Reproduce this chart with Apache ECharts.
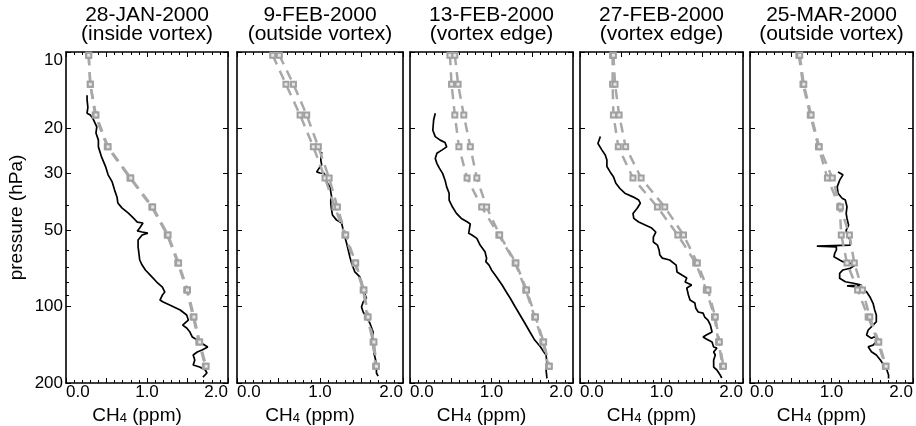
<!DOCTYPE html>
<html>
<head>
<meta charset="utf-8">
<script src="https://cdn.jsdelivr.net/npm/echarts@6/dist/echarts.min.js"></script>
<style>
html,body{margin:0;padding:0;background:#fff;}
#c{width:916px;height:426px;}
</style>
</head>
<body>
<div id="c"></div>
<script>
// ---------------- data ----------------
const dates = ['28-JAN-2000', '9-FEB-2000', '13-FEB-2000', '27-FEB-2000', '25-MAR-2000'];
const regions = ['(inside vortex)', '(outside vortex)', '(vortex edge)', '(vortex edge)', '(outside vortex)'];
const ch4Ticks = [0, 1, 2];
const pressureTicks = [10, 20, 30, 50, 100, 200];
const pressureMinorTicks = [40, 60, 70, 80, 90];

// model levels (hPa) and two model profiles (ppm) per panel
const modelPressure = [10.3, 13.4, 17.7, 23.6, 31.3, 40.7, 52.4, 67.5, 86.2, 110, 138, 172];
const model1A = [0.28, 0.30, 0.36, 0.51, 0.79, 1.06, 1.25, 1.38, 1.49, 1.57, 1.64, 1.72];
const model1B = [0.28, 0.30, 0.37, 0.52, 0.80, 1.07, 1.26, 1.39, 1.50, 1.58, 1.65, 1.73];
const model2A = [0.43, 0.59, 0.76, 0.92, 1.06, 1.18, 1.30, 1.42, 1.52, 1.57, 1.64, 1.67];
const model2B = [0.51, 0.68, 0.84, 0.98, 1.11, 1.21, 1.31, 1.43, 1.53, 1.58, 1.65, 1.68];
const model3A = [0.49, 0.51, 0.55, 0.60, 0.70, 0.88, 1.09, 1.29, 1.42, 1.53, 1.63, 1.70];
const model3B = [0.55, 0.59, 0.66, 0.74, 0.82, 0.94, 1.10, 1.30, 1.43, 1.54, 1.64, 1.71];
const model4A = [0.40, 0.40, 0.41, 0.47, 0.65, 0.95, 1.20, 1.42, 1.55, 1.65, 1.70, 1.75];
const model4B = [0.41, 0.43, 0.48, 0.56, 0.75, 1.04, 1.27, 1.44, 1.57, 1.66, 1.71, 1.76];
const model5A = [0.60, 0.65, 0.74, 0.84, 0.95, 1.10, 1.12, 1.19, 1.32, 1.45, 1.57, 1.66];
const model5B = [0.61, 0.66, 0.75, 0.85, 1.01, 1.11, 1.22, 1.28, 1.38, 1.47, 1.58, 1.67];

// measured profiles
const obs1Pres = [14.8,15.4,16.5,17.4,17.7,18.2,19.7,20.8,22.2,23.6,25.9,28.3,30.4,32.4,34.9,37.2,39.2,41.0,43.0,44.9,46.6,47.0,49.2,50.5,51.0,51.5,52.4,54.8,58.4,61.7,65.7,68.8,71.9,75.3,80.2,83.9,87.8,90.2,94.4,96.1,98.7,103.3,108.1,113.1,118.4,121.6,126.1,131.9,135.6,140.5,144.4,148.4,151.1,155.2,162.4,170.0,173.1,177.8,182.7,189.5];
const obs1Ch4  = [0.26,0.26,0.27,0.26,0.30,0.33,0.38,0.37,0.40,0.40,0.44,0.49,0.52,0.57,0.60,0.63,0.64,0.69,0.77,0.83,0.88,0.95,0.91,0.88,0.94,1.01,0.94,0.89,0.89,0.90,0.91,0.94,0.98,1.04,1.12,1.19,1.22,1.19,1.16,1.20,1.28,1.41,1.49,1.51,1.44,1.49,1.53,1.56,1.62,1.69,1.75,1.68,1.62,1.57,1.59,1.57,1.65,1.72,1.74,1.69];
const obs2Pres = [24.7,26.6,27.8,28.6,29.6,29.9,30.0,31.0,32.4,33.9,35.5,37.2,38.2,39.5,41.8,43.7,45.8,47.0,50.1,53.4,56.3,60.0,63.9,67.5,73.2,76.6,80.2,86.2,92.7,96.1,100.6,105.2,110.1,116.2,126.1,131.9,139.3,152.5,162.4,174.6,182.7,187.8];
const obs2Ch4  = [1.02,1.01,1.02,0.99,0.96,1.00,1.05,1.08,1.08,1.12,1.13,1.14,1.13,1.13,1.14,1.15,1.20,1.26,1.28,1.30,1.32,1.34,1.36,1.38,1.42,1.48,1.50,1.52,1.56,1.52,1.50,1.52,1.56,1.60,1.64,1.63,1.64,1.65,1.67,1.68,1.68,1.70];
const obs3Pres = [17.4,18.5,20.3,21.5,22.2,22.7,23.6,24.3,25.0,26.2,27.4,28.6,30.0,31.9,33.9,35.9,38.2,40.6,43.1,45.1,46.5,47.4,49.3,51.6,52.4,54.0,57.4,61.0,64.7,66.7,68.8,71.9,76.4,82.4,87.6,92.9,100.3,108.1,116.5,125.8,135.6,144.0,150.7,155.2,167.4,177.8,191.8];
const obs3Ch4  = [0.31,0.29,0.28,0.31,0.37,0.43,0.45,0.39,0.33,0.31,0.33,0.36,0.40,0.43,0.45,0.48,0.48,0.52,0.57,0.63,0.70,0.74,0.73,0.72,0.76,0.82,0.86,0.92,0.94,0.93,0.97,1.00,1.06,1.13,1.18,1.23,1.29,1.35,1.41,1.47,1.53,1.60,1.64,1.67,1.68,1.67,1.68];
const obs4Pres = [21.5,22.9,24.3,25.4,26.6,28.2,29.6,30.9,32.8,34.4,35.9,37.1,38.2,39.3,41.2,43.1,45.1,46.6,47.9,49.2,51.0,53.4,55.8,57.4,60.0,62.8,64.6,65.7,68.8,73.2,75.3,77.3,80.2,82.4,84.7,90.2,94.4,97.0,101.5,105.2,106.2,110.1,113.1,118.4,126.1,129.6,131.9,134.3,138.0,144.4,145.7,151.1,155.2,162.4,173.1,177.8,186.1,191.2];
const obs4Ch4  = [0.25,0.22,0.27,0.31,0.33,0.33,0.37,0.41,0.44,0.49,0.55,0.65,0.72,0.74,0.70,0.65,0.66,0.72,0.80,0.88,0.93,0.90,0.90,0.95,0.97,0.98,1.01,1.10,1.18,1.19,1.25,1.31,1.29,1.37,1.31,1.33,1.35,1.41,1.42,1.45,1.51,1.53,1.57,1.60,1.62,1.55,1.51,1.55,1.62,1.64,1.68,1.64,1.66,1.64,1.64,1.68,1.72,1.74];
const obs5Pres = [29.6,30.4,31.9,33.9,35.9,37.6,38.2,40.6,43.1,45.1,47.9,50.1,52.4,54.8,57.4,57.9,58.3,60.0,61.8,63.8,65.7,66.7,67.7,68.8,70.8,71.9,74.1,77.5,80.0,81.1,82.4,83.1,84.1,87.6,91.6,97.2,103.3,108.1,114.8,118.4,123.8,129.6,133.5,131.6,135.6,141.9,144.0,146.1,150.7,155.2,162.4,170.0,177.8,186.1,191.9];
const obs5Ch4  = [1.08,1.14,1.10,1.07,1.08,1.13,1.17,1.19,1.18,1.19,1.21,1.18,1.19,1.23,1.23,0.82,1.06,1.06,1.04,1.03,1.10,1.14,1.23,1.29,1.23,1.14,1.10,1.10,1.17,1.27,1.37,1.19,1.37,1.43,1.47,1.51,1.53,1.55,1.55,1.51,1.45,1.43,1.49,1.53,1.57,1.51,1.45,1.43,1.49,1.55,1.60,1.64,1.68,1.70,1.70];

const obsPres = [obs1Pres, obs2Pres, obs3Pres, obs4Pres, obs5Pres];
const obsCh4 = [obs1Ch4, obs2Ch4, obs3Ch4, obs4Ch4, obs5Ch4];
const modelA = [model1A, model2A, model3A, model4A, model5A];
const modelB = [model1B, model2B, model3B, model4B, model5B];

// ---------------- layout ----------------
const FONT = 'Liberation Sans, Arial, Helvetica, sans-serif';
const panelLeft = [66, 237, 410, 580, 750];
const panelWidth = [162, 166, 163, 163, 163];
const TOP = 52, HEIGHT = 331;

const grids = [], xAxes = [], yAxes = [], series = [], titles = [];
const lineBlack = {show: true, lineStyle: {color: '#000', width: 1.6}};
const tickStyle = {color: '#000', width: 1};

for (let i = 0; i < 5; i++) {
  grids.push({left: panelLeft[i], top: TOP, width: panelWidth[i], height: HEIGHT,
              containLabel: false, outerBoundsMode: 'none'});
  titles.push({
    text: dates[i] + '\n' + regions[i],
    left: panelLeft[i] + panelWidth[i] / 2, top: 6, textAlign: 'center', padding: 0,
    textStyle: {fontSize: 21, fontWeight: 'normal', color: '#000', lineHeight: 19, fontFamily: FONT}
  });
  const xBase = {
    type: 'value', gridIndex: i, min: 0, max: 2, interval: 0.5,
    axisLine: lineBlack,
    axisTick: {show: true, inside: true, length: 5, lineStyle: tickStyle},
    minorTick: {show: true, splitNumber: 5, length: 3, lineStyle: tickStyle},
    splitLine: {show: false}, minorSplitLine: {show: false}
  };
  xAxes.push(Object.assign({}, xBase, {
    position: 'bottom',
    axisLabel: {
      show: true, color: '#000', fontSize: 17, fontFamily: FONT, margin: 1,
      customValues: ch4Ticks,
      formatter: v => Number(v).toFixed(1),
      alignMinLabel: 'left', alignMaxLabel: 'right', showMinLabel: true, showMaxLabel: true
    },
    name: '{a|CH}{b|4}{a| (ppm)}', nameLocation: 'middle', nameGap: 23,
    nameTextStyle: {
      color: '#000', padding: [0, 20, 0, 0],
      rich: {
        a: {fontSize: 19, fontFamily: FONT, color: '#000', verticalAlign: 'bottom', lineHeight: 19},
        b: {fontSize: 13, fontFamily: FONT, color: '#000', verticalAlign: 'bottom', lineHeight: 13}
      }
    }
  }));
  xAxes.push(Object.assign({}, xBase, {position: 'top', axisLabel: {show: false}}));

  const yBase = {
    type: 'log', logBase: 10, gridIndex: i, min: 10, max: 200, inverse: true,
    splitLine: {show: false}
  };
  // left major
  yAxes.push(Object.assign({}, yBase, {
    position: 'left', axisLine: lineBlack,
    axisTick: {show: true, inside: true, length: 5, lineStyle: tickStyle, customValues: pressureTicks},
    axisLabel: {
      show: i === 0, customValues: pressureTicks, color: '#000', fontSize: 17, fontFamily: FONT, margin: 3,
      verticalAlignMinLabel: 'top'
    },
    name: i === 0 ? 'pressure (hPa)' : '', nameLocation: 'middle', nameGap: 40, nameRotate: 90,
    nameTextStyle: {fontSize: 19, color: '#000', fontFamily: FONT}
  }));
  // left minor
  yAxes.push(Object.assign({}, yBase, {
    position: 'left', axisLine: {show: false},
    axisTick: {show: true, inside: true, length: 3, lineStyle: tickStyle, customValues: pressureMinorTicks},
    axisLabel: {show: false}
  }));
  // right major
  yAxes.push(Object.assign({}, yBase, {
    position: 'right', axisLine: lineBlack,
    axisTick: {show: true, inside: true, length: 5, lineStyle: tickStyle, customValues: pressureTicks},
    axisLabel: {show: false}
  }));
  // right minor
  yAxes.push(Object.assign({}, yBase, {
    position: 'right', axisLine: {show: false},
    axisTick: {show: true, inside: true, length: 3, lineStyle: tickStyle, customValues: pressureMinorTicks},
    axisLabel: {show: false}
  }));

  series.push({
    type: 'line', xAxisIndex: 2 * i, yAxisIndex: 4 * i,
    data: obsCh4[i].map((c, k) => [c, obsPres[i][k]]),
    showSymbol: false, symbol: 'none', clip: true,
    lineStyle: {color: '#000', width: 1.7}, z: 3, silent: true
  });
  [modelA[i], modelB[i]].forEach(prof => {
    series.push({
      type: 'line', xAxisIndex: 2 * i, yAxisIndex: 4 * i,
      data: prof.map((c, k) => [c, modelPressure[k]]),
      symbol: 'rect', symbolSize: 5, showSymbol: true, clip: true,
      itemStyle: {color: '#e6e6e6', borderColor: '#a0a0a0', borderWidth: 2},
      lineStyle: {color: '#a8a8a8', width: 2.5, type: [10, 7]},
      z: 4, silent: true
    });
  });
}

const chart = echarts.init(document.getElementById('c'));
chart.setOption({
  backgroundColor: '#fff',
  animation: false,
  title: titles,
  grid: grids,
  xAxis: xAxes,
  yAxis: yAxes,
  series: series
});
</script>
</body>
</html>
